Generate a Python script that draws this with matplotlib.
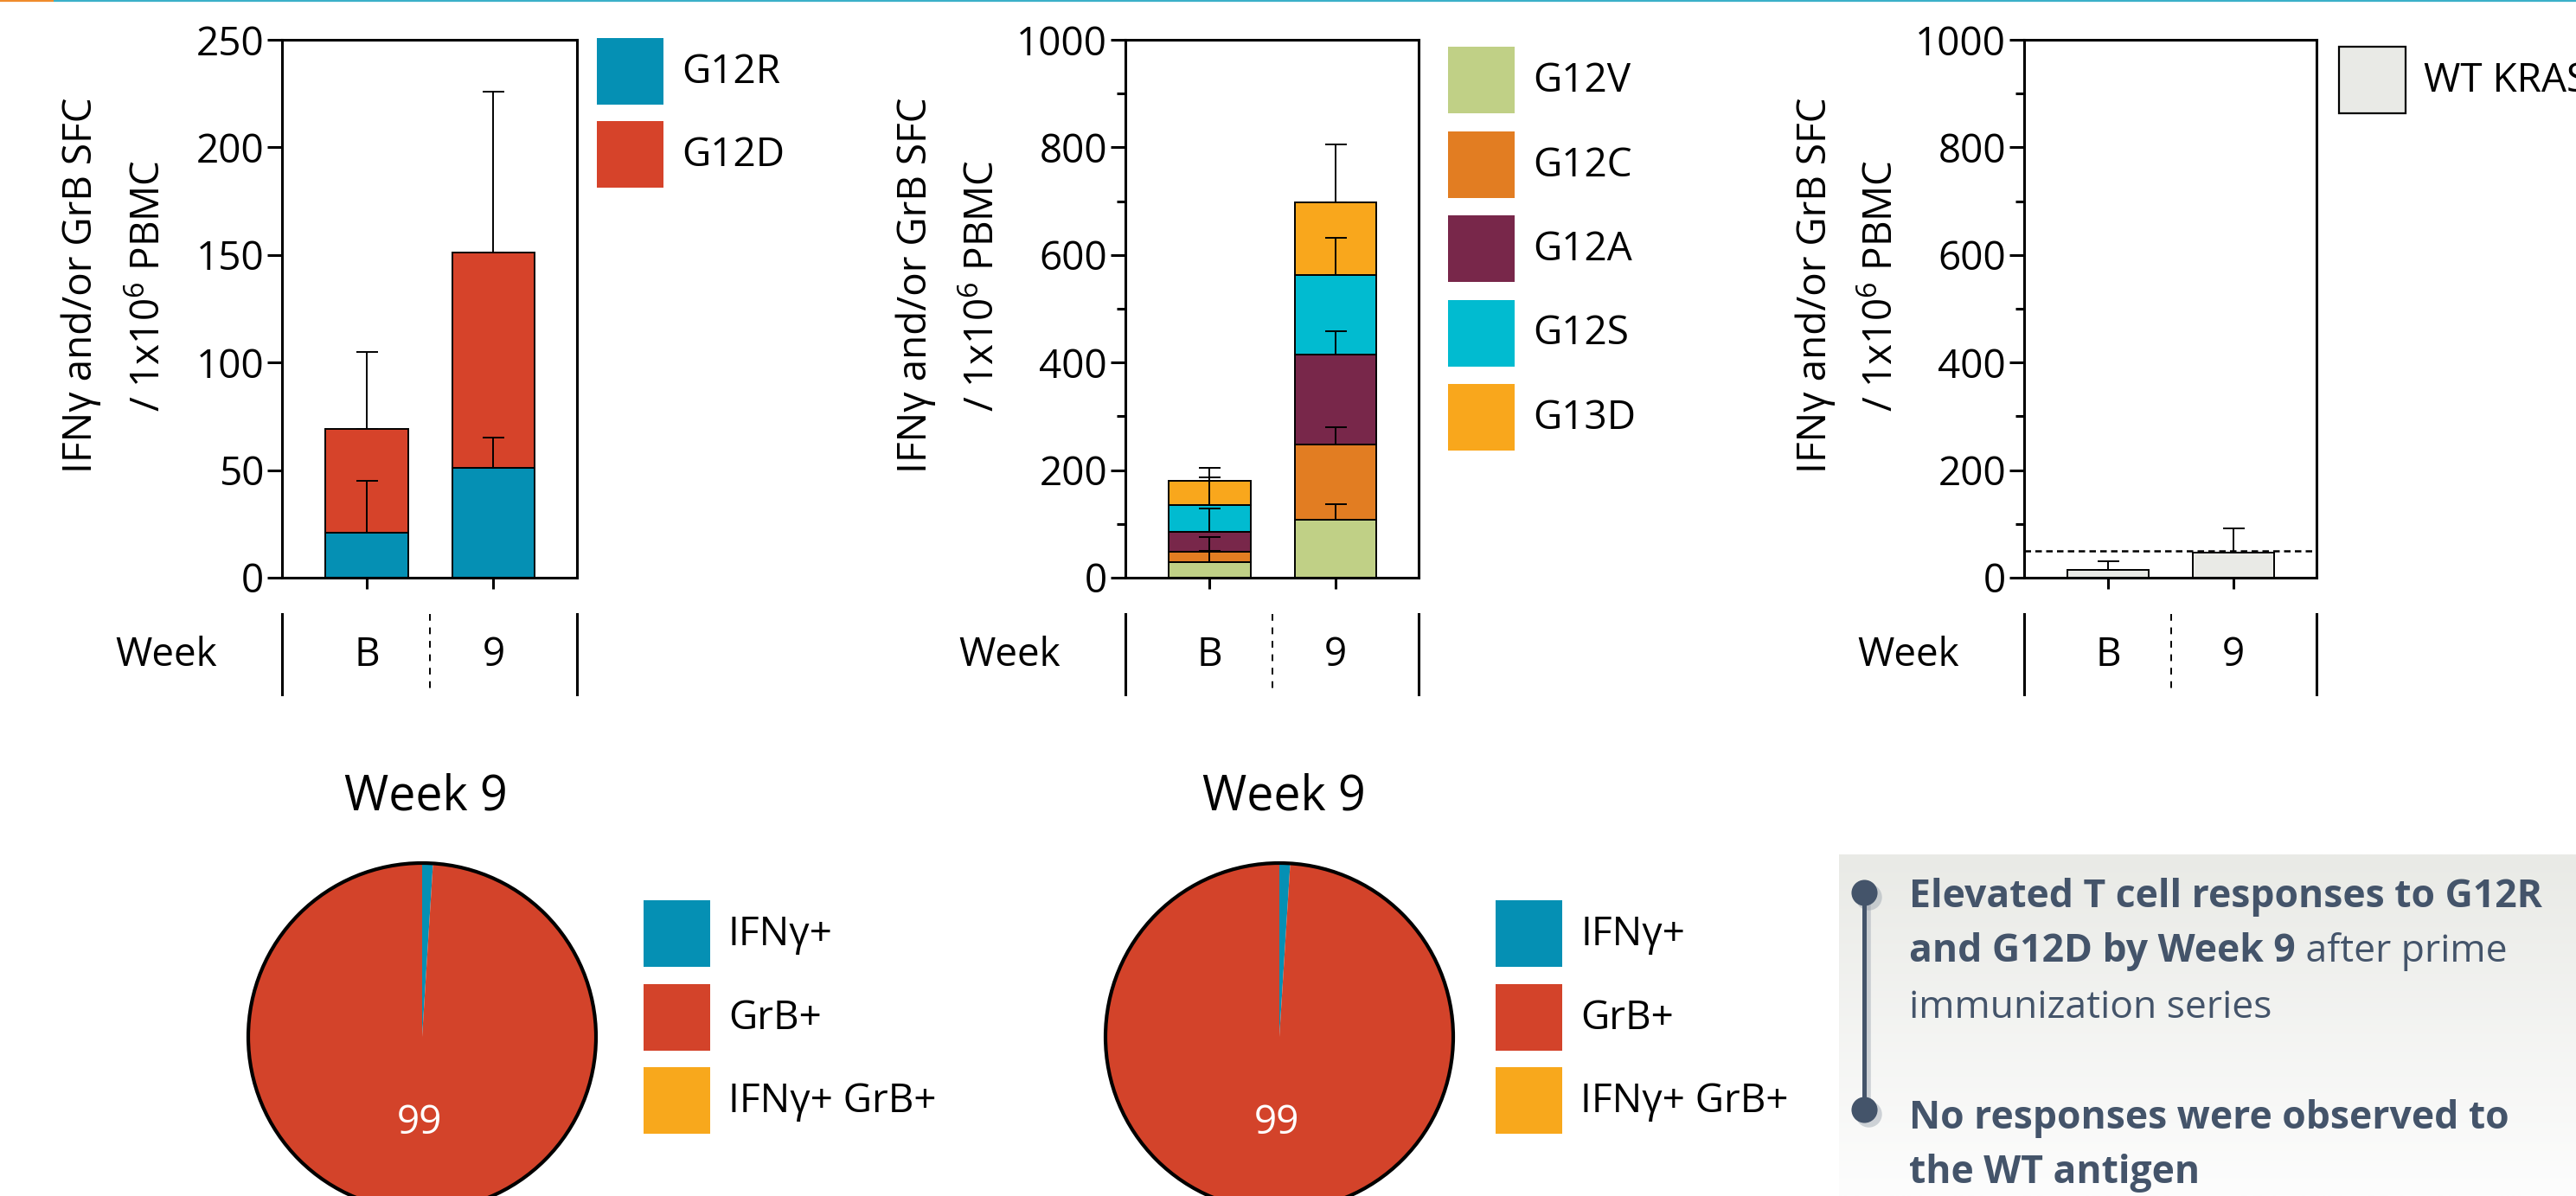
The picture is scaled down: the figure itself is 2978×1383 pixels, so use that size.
import matplotlib.pyplot as plt
import numpy as np
from matplotlib.patches import Rectangle, Circle
from matplotlib import transforms

plt.rcParams['font.family'] = ['Open Sans', 'DejaVu Sans']
plt.rcParams['mathtext.fontset'] = 'custom'
plt.rcParams['mathtext.rm'] = 'Open Sans'
plt.rcParams['mathtext.it'] = 'Open Sans:italic'
plt.rcParams['mathtext.bf'] = 'Open Sans:bold'

W, H = 2978, 1383

weeks = ["B", "9"]

# panel 1 : G12R / G12D
p1_names = ["G12R", "G12D"]
p1_colors = ["#0590B4", "#D6432A"]
g12r = [21, 51]
g12r_err = [24, 14]
g12d = [48, 100]
g12d_err = [36, 75]

# panel 2 : other mutations
p2_names = ["G12V", "G12C", "G12A", "G12S", "G13D"]
p2_colors = ["#C0D086", "#E27D22", "#78274A", "#01BBD0", "#F9A71C"]
g12v = [29, 108]
g12v_err = [21, 29]
g12c = [19, 139]
g12c_err = [27, 33]
g12a = [38, 167]
g12a_err = [42, 45]
g12s = [49, 148]
g12s_err = [52, 70]
g13d = [45, 135]
g13d_err = [24, 108]

# panel 3 : wild type
wt = [15, 47]
wt_err = [16, 45]
wt_cutoff = 50

# pies (week 9)
pie_labels = ["IFNγ+", "GrB+", "IFNγ+ GrB+"]
pie_colors = ["#0590B4", "#D3432A", "#F8A81C"]
pie1 = [1, 99, 0]
pie2 = [1, 99, 0]

FS = 33
TXT = "#44546A"


def px_rect(left, top, right, bottom):
    return [left / W, 1 - bottom / H, (right - left) / W, (bottom - top) / H]


fig = plt.figure(figsize=(W / 100, H / 100), dpi=100)

# overlay in pixel coords for legends, week rows, text box
ov = fig.add_axes([0, 0, 1, 1])
ov.set_zorder(-1)
ov.axis('off')

# top stripe
ov.plot([0, 62], [1, 1], color="#EF8B2C", lw=1.6, solid_capstyle='butt')
ov.plot([62, W], [1, 1], color="#3BB0C9", lw=1.6, solid_capstyle='butt')


def bar_panel(left, right, ymax, series, errs, colors, minor, ylab_off):
    ax = fig.add_axes(px_rect(left, 46, right, 668))
    ax.set_facecolor('none')
    x = np.arange(len(weeks))
    bottom = np.zeros(len(weeks))
    tops = []
    for vals, c in zip(series, colors):
        ax.bar(x, vals, 0.65, bottom=bottom, color=c, edgecolor='black', linewidth=1.4, zorder=1)
        bottom = bottom + np.array(vals)
        tops.append(bottom.copy())
    for t, e in zip(tops, errs):
        ax.errorbar(x, t, yerr=[np.zeros(len(e)), e], fmt='none', ecolor='black',
                    elinewidth=1.4, capsize=9, capthick=1.4, zorder=3)
    ax.set_xlim(-0.67, 1.66)
    ax.set_ylim(0, ymax)
    for s in ax.spines.values():
        s.set_linewidth(2.2)
    ax.set_xticks(x)
    ax.set_xticklabels([])
    ax.tick_params(axis='x', length=9, width=2.2, direction='out')
    ax.set_yticks(np.arange(0, ymax + 1, ymax / 5))
    if minor:
        ax.set_yticks(np.arange(0, ymax + 1, ymax / 10), minor=True)
        ax.tick_params(axis='y', which='minor', length=7, width=2.2)
    ax.tick_params(axis='y', which='major', length=12, width=2.2, labelsize=FS, pad=3)

    # y label, two lines
    ov.text(left - ylab_off[0], 330, "IFNγ and/or GrB SFC", rotation=90, ha='center', va='center', fontsize=FS)
    ov.text(left - ylab_off[1], 330, r"/ 1x10$^{6}$ PBMC", rotation=90, ha='center', va='center', fontsize=FS)

    # week row below the axis
    tr_axes = transforms.blended_transform_factory(ax.transAxes, ov.transData)
    tr_data = transforms.blended_transform_factory(ax.transData, ov.transData)
    for xe in [0, 1]:
        ov.plot([xe, xe], [710, 803], color='black', lw=2.2, transform=tr_axes)
    ov.plot([0.5, 0.5], [710, 803], color='black', lw=1.4, ls=(0, (4, 4)), transform=tr_data)
    for xi, w in zip(x, weeks):
        ov.text(xi, 758, w, ha='center', va='center', fontsize=FS, transform=tr_data)
    ov.text(left - 134, 758, "Week", ha='center', va='center', fontsize=FS)
    return ax


def legend_rows(x0, y0, names, colors, step=96, edge=None):
    for i, (n, c) in enumerate(zip(names, colors)):
        y = y0 + i * step
        ov.add_patch(Rectangle((x0, y), 77, 77, facecolor=c,
                               edgecolor=edge if edge else 'none', lw=1.6))
        ov.text(x0 + 98, y + 40, n, ha='left', va='center', fontsize=FS)


ax1 = bar_panel(326, 667, 250, [g12r, g12d], [g12r_err, g12d_err], p1_colors, False, (232, 153))
legend_rows(690, 44, p1_names, p1_colors)

ax2 = bar_panel(1301, 1640, 1000, [g12v, g12c, g12a, g12s, g13d],
                [g12v_err, g12c_err, g12a_err, g12s_err, g13d_err], p2_colors, True, (242, 164))
legend_rows(1674, 54, p2_names, p2_colors, step=97.5)

ax3 = bar_panel(2340, 2678, 1000, [wt], [wt_err], ["#E9EAE6"], True, (241, 164))
ax3.axhline(wt_cutoff, color='black', lw=1.8, ls=(0, (3, 2)), zorder=2)
legend_rows(2704, 54, ["WT KRAS"], ["#E9EAE6"], edge='black')


def pie_panel(cx, cy, vals, title_x, leg_x):
    R = 201
    pad = 205
    ax = fig.add_axes(px_rect(cx - pad, cy - pad, cx + pad, cy + pad))
    ax.pie(vals, colors=pie_colors, startangle=90, counterclock=False,
           autopct=lambda p: f"{p:.0f}" if p > 50 else "", pctdistance=0.5,
           wedgeprops=dict(linewidth=0), textprops=dict(color='white', fontsize=FS))
    ax.add_patch(Circle((0, 0), 1, fill=False, edgecolor='black', lw=3))
    ax.set_xlim(-pad / R, pad / R)
    ax.set_ylim(-pad / R, pad / R)
    ax.set_aspect('equal')
    ov.text(title_x, 922, "Week 9", ha='center', va='center', fontsize=40)
    legend_rows(leg_x, 1041, pie_labels, pie_colors, step=96.5)


pie_panel(488, 1199, pie1, 492, 744)
pie_panel(1479, 1199, pie2, 1484, 1729)

# text box with gradient
grad = np.linspace(0, 1, 256)[:, None]
top_c = np.array([233, 234, 230]) / 255
bot_c = np.array([253, 253, 253]) / 255
img = top_c[None, None, :] * (1 - grad[:, :, None]) + bot_c[None, None, :] * grad[:, :, None]
ov.imshow(img, extent=(2126, W, H, 988), aspect='auto', zorder=0, interpolation='bilinear')

# timeline bar with soft shadow
ov.plot([2160, 2160], [1037, 1288], color='#9AA3AE', lw=4, alpha=0.45, zorder=1)
ov.plot([2155, 2155], [1032, 1283], color=TXT, lw=3.6, zorder=2, solid_capstyle='butt')
ov.scatter([2160, 2160], [1037, 1288], s=480, color='#9AA3AE', alpha=0.45, zorder=1, linewidths=0)
ov.scatter([2155, 2155], [1032, 1283], s=470, color=TXT, zorder=3, linewidths=0)

bfs = 32
ov.text(2207, 1049, "Elevated T cell responses to G12R", fontsize=bfs, weight='bold', color=TXT, va='baseline')
t2 = ov.text(2207, 1112, "and G12D by Week 9", fontsize=bfs, weight='bold', color=TXT, va='baseline')
ov.annotate(" after prime", xy=(1, 0), xycoords=t2, fontsize=bfs, color=TXT, va='bottom', ha='left')
ov.text(2207, 1177, "immunization series", fontsize=bfs, color=TXT, va='baseline')
ov.text(2207, 1305, "No responses were observed to", fontsize=bfs, weight='bold', color=TXT, va='baseline')
ov.text(2207, 1368, "the WT antigen", fontsize=bfs, weight='bold', color=TXT, va='baseline')

ov.set_xlim(0, W)
ov.set_ylim(H, 0)

fig.savefig("out.png", dpi=100)
